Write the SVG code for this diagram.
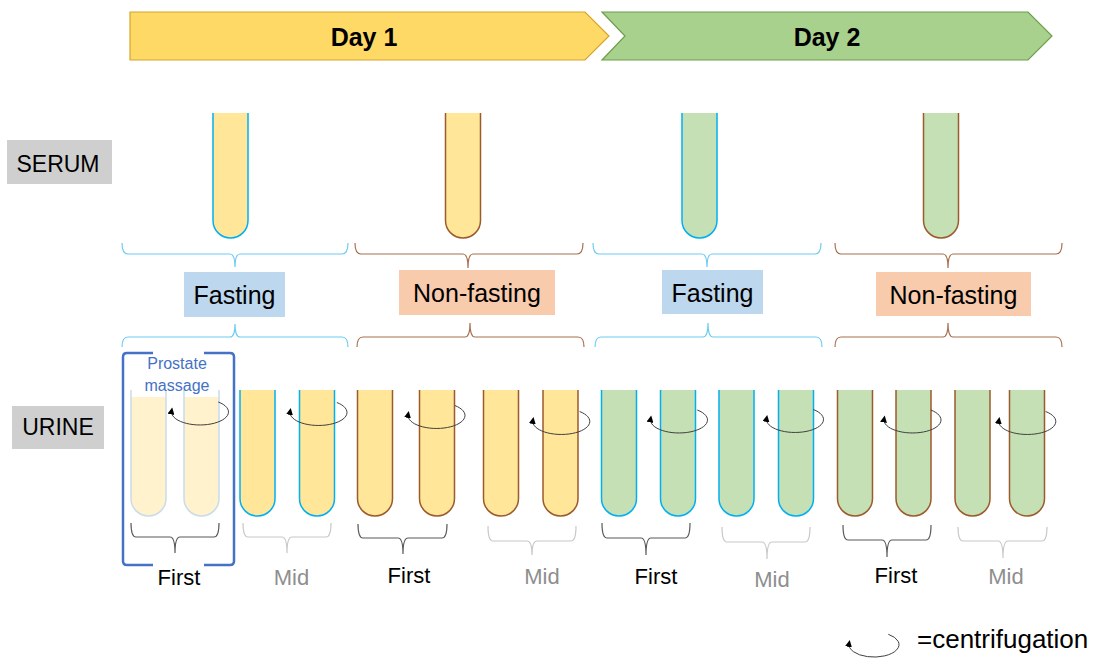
<svg xmlns="http://www.w3.org/2000/svg" width="1099" height="662" viewBox="0 0 1099 662">
<style>
text{font-family:"Liberation Sans",Arial,sans-serif;text-anchor:middle}
.day{font-weight:bold;font-size:25px;fill:#000}
.lbl{font-size:23px;fill:#000}
.cond{font-size:25px;fill:#000}
.first{font-size:22px;fill:#000}
.mid{font-size:22px;fill:#8E8E8E}
.yel{fill:#FFE699}
.grn{fill:#C5E0B4}
.sb{stroke:#00B0F0;stroke-width:1.5}
.sr{stroke:#9C5B2B;stroke-width:1.5}
.bb{fill:none;stroke:#6CCBF2;stroke-width:1.2}
.br{fill:none;stroke:#A8704F;stroke-width:1.2}
.bd{fill:none;stroke:#595959;stroke-width:1.2}
.bl{fill:none;stroke:#C8C8C8;stroke-width:1.2}
.cf{fill:none;stroke:#404040;stroke-width:1}
</style>
<defs>
<marker id="ah" viewBox="0 0 10 10" refX="5" refY="5" markerWidth="7" markerHeight="7" markerUnits="userSpaceOnUse" orient="auto"><path d="M0,0 L10,5 L0,10 z" fill="#000"/></marker>
</defs>

<g id="day1">
<polygon points="130,12 585,12 609,36 585,60 130,60" fill="#FFD966" stroke="#D3A52C" stroke-width="1.2"/>
<text class="day" x="364" y="46">Day 1</text>
</g>
<g id="day2">
<polygon points="602,12 1028,12 1052,36 1028,60 602,60 625,36" fill="#A9D18E" stroke="#6E9E4A" stroke-width="1.2"/>
<text class="day" x="827" y="46">Day 2</text>
</g>

<g id="serum-label">
<rect x="7" y="140" width="105" height="44" fill="#CFCFCF"/>
<text class="lbl" x="58" y="172">SERUM</text>
</g>
<g id="urine-label">
<rect x="12" y="406" width="92" height="43" fill="#CFCFCF"/>
<text class="lbl" x="58" y="435">URINE</text>
</g>

<g id="serum-tubes">
<path class="yel sb" d="M213,113 V220.5 A17.5,17.5 0 0 0 248,220.5 V113"/>
<path class="yel sr" d="M445.5,113 V220.5 A17.5,17.5 0 0 0 480.5,220.5 V113"/>
<path class="grn sb" d="M682,113 V220.5 A17.5,17.5 0 0 0 717,220.5 V113"/>
<path class="grn sr" d="M923.5,113 V220.5 A17.5,17.5 0 0 0 958.5,220.5 V113"/>
</g>

<g id="conditions">
<g id="fasting1"><rect x="184" y="272" width="101" height="45" fill="#BDD7EE"/><text class="cond" x="234.5" y="304">Fasting</text></g>
<g id="nonfasting1"><rect x="399" y="270" width="156" height="45" fill="#F8CBAD"/><text class="cond" x="477" y="302">Non-fasting</text></g>
<g id="fasting2"><rect x="662" y="270" width="101" height="44" fill="#BDD7EE"/><text class="cond" x="712.5" y="302">Fasting</text></g>
<g id="nonfasting2"><rect x="876" y="272" width="155" height="44" fill="#F8CBAD"/><text class="cond" x="953.5" y="304">Non-fasting</text></g>
</g>

<g id="urine-tubes">
<path d="M131,397 V498.5 A17.5,17.5 0 0 0 166,498.5 V397 Z" fill="#FFF2CC"/>
<path d="M131,390 V498.5 A17.5,17.5 0 0 0 166,498.5 V390" fill="none" stroke="#C9DCEC" stroke-width="1.5"/>
<path d="M184,397 V498.5 A17.5,17.5 0 0 0 219,498.5 V397 Z" fill="#FFF2CC"/>
<path d="M184,390 V498.5 A17.5,17.5 0 0 0 219,498.5 V390" fill="none" stroke="#C9DCEC" stroke-width="1.5"/>
<path class="yel sb" d="M240,390 V498.5 A17.5,17.5 0 0 0 275,498.5 V390"/>
<path class="yel sb" d="M299.5,390 V498.5 A17.5,17.5 0 0 0 334.5,498.5 V390"/>
<path class="yel sr" d="M357.5,390 V498.5 A17.5,17.5 0 0 0 392.5,498.5 V390"/>
<path class="yel sr" d="M419.5,390 V498.5 A17.5,17.5 0 0 0 454.5,498.5 V390"/>
<path class="yel sr" d="M483.5,390 V498.5 A17.5,17.5 0 0 0 518.5,498.5 V390"/>
<path class="yel sr" d="M543,390 V498.5 A17.5,17.5 0 0 0 578,498.5 V390"/>
<path class="grn sb" d="M601.5,390 V498.5 A17.5,17.5 0 0 0 636.5,498.5 V390"/>
<path class="grn sb" d="M660.5,390 V498.5 A17.5,17.5 0 0 0 695.5,498.5 V390"/>
<path class="grn sb" d="M719,390 V498.5 A17.5,17.5 0 0 0 754,498.5 V390"/>
<path class="grn sb" d="M778.5,390 V498.5 A17.5,17.5 0 0 0 813.5,498.5 V390"/>
<path class="grn sr" d="M837.5,390 V498.5 A17.5,17.5 0 0 0 872.5,498.5 V390"/>
<path class="grn sr" d="M896,390 V498.5 A17.5,17.5 0 0 0 931,498.5 V390"/>
<path class="grn sr" d="M955,390 V498.5 A17.5,17.5 0 0 0 990,498.5 V390"/>
<path class="grn sr" d="M1009.5,390 V498.5 A17.5,17.5 0 0 0 1044.5,498.5 V390"/>
</g>

<g id="prostate-massage">
<path d="M153,353 H127 Q123,353 123,357 V561 Q123,565 127,565 H153 M204,353 H230 Q234,353 234,357 V561 Q234,565 230,565 H204" fill="none" stroke="#4472C4" stroke-width="2.5"/>
<text x="177" y="369" font-size="16" fill="#4472C4">Prostate</text>
<text x="177" y="391" font-size="16" fill="#4472C4">massage</text>
</g>

<g id="connectors">
<path class="bb" d="M122,243 Q122,254 128,254 H230 Q235,254 235,267 M348,243 Q348,254 342,254 H240 Q235,254 235,267"/>
<path class="br" d="M355,243 Q355,254 361,254 H463 Q468,254 468,268 M583,243 Q583,254 577,254 H473 Q468,254 468,268"/>
<path class="bb" d="M593,243 Q593,254 599,254 H702 Q707,254 707,267 M821,243 Q821,254 815,254 H712 Q707,254 707,267"/>
<path class="br" d="M835,243 Q835,254 841,254 H943 Q948,254 948,268 M1062,243 Q1062,254 1056,254 H953 Q948,254 948,268"/>

<path class="bb" d="M122,347 Q122,337 128,337 H230 Q235,337 235,324 M348,347 Q348,337 342,337 H240 Q235,337 235,324"/>
<path class="br" d="M357,347 Q357,337 363,337 H465 Q470,337 470,323 M584,347 Q584,337 578,337 H475 Q470,337 470,323"/>
<path class="bb" d="M595,347 Q595,337 601,337 H703 Q708,337 708,323 M822,347 Q822,337 816,337 H713 Q708,337 708,323"/>
<path class="br" d="M835,347 Q835,337 841,337 H943 Q948,337 948,323 M1062,347 Q1062,337 1056,337 H953 Q948,337 948,323"/>

<path class="bd" d="M131,523 Q131,537 136,537 H170 Q175,537 175,553 M219,523 Q219,537 214,537 H180 Q175,537 175,553"/>
<path class="bl" d="M243,523 Q243,537 248,537 H282 Q287,537 287,553 M331,523 Q331,537 326,537 H292 Q287,537 287,553"/>
<path class="bd" d="M358,524 Q358,538 363,538 H398 Q403,538 403,554 M447,524 Q447,538 442,538 H408 Q403,538 403,554"/>
<path class="bl" d="M488,526 Q488,541 493,541 H527 Q532,541 532,555 M576,526 Q576,541 571,541 H537 Q532,541 532,555"/>
<path class="bd" d="M602,523 Q602,538 607,538 H641 Q646,538 646,555 M690,523 Q690,538 685,538 H651 Q646,538 646,555"/>
<path class="bl" d="M722,527 Q722,542 727,542 H762 Q767,542 767,559 M810,527 Q810,542 805,542 H772 Q767,542 767,559"/>
<path class="bd" d="M843,525 Q843,540 848,540 H882 Q887,540 887,557 M931,525 Q931,540 926,540 H892 Q887,540 887,557"/>
<path class="bl" d="M958,527 Q958,541 963,541 H998 Q1003,541 1003,558 M1047,527 Q1047,541 1042,541 H1008 Q1003,541 1003,558"/>

<path class="cf" marker-end="url(#ah)" d="M218.3,402 A28.5,13 0 1 1 171.6,410.9"/>
<path class="cf" marker-end="url(#ah)" d="M336.8,402.5 A28.5,13 0 1 1 290.1,411.4"/>
<path class="cf" marker-end="url(#ah)" d="M454.8,405.5 A28.5,13 0 1 1 408.1,414.4"/>
<path class="cf" marker-end="url(#ah)" d="M579.6,411.5 A28.5,13 0 1 1 532.9,420.4"/>
<path class="cf" marker-end="url(#ah)" d="M697.3,410 A28.5,13 0 1 1 650.6,418.9"/>
<path class="cf" marker-end="url(#ah)" d="M813.3,409.5 A28.5,13 0 1 1 766.6,418.4"/>
<path class="cf" marker-end="url(#ah)" d="M930.8,410 A28.5,13 0 1 1 884.1,418.9"/>
<path class="cf" marker-end="url(#ah)" d="M1045.6,411.5 A28.5,13 0 1 1 998.9,420.4"/>
</g>

<g id="sample-labels">
<text class="first" x="179" y="585">First</text>
<text class="mid" x="291.5" y="585">Mid</text>
<text class="first" x="409" y="583">First</text>
<text class="mid" x="542" y="584">Mid</text>
<text class="first" x="656" y="584">First</text>
<text class="mid" x="772" y="587">Mid</text>
<text class="first" x="896" y="583">First</text>
<text class="mid" x="1006" y="584">Mid</text>
</g>

<g id="legend">
<path class="cf" marker-end="url(#ah)" d="M888.3,634.3 A25,12.5 0 1 1 849.1,643.4"/>
<text x="917" y="648" font-size="26" fill="#000" style="text-anchor:start">=centrifugation</text>
</g>
</svg>
